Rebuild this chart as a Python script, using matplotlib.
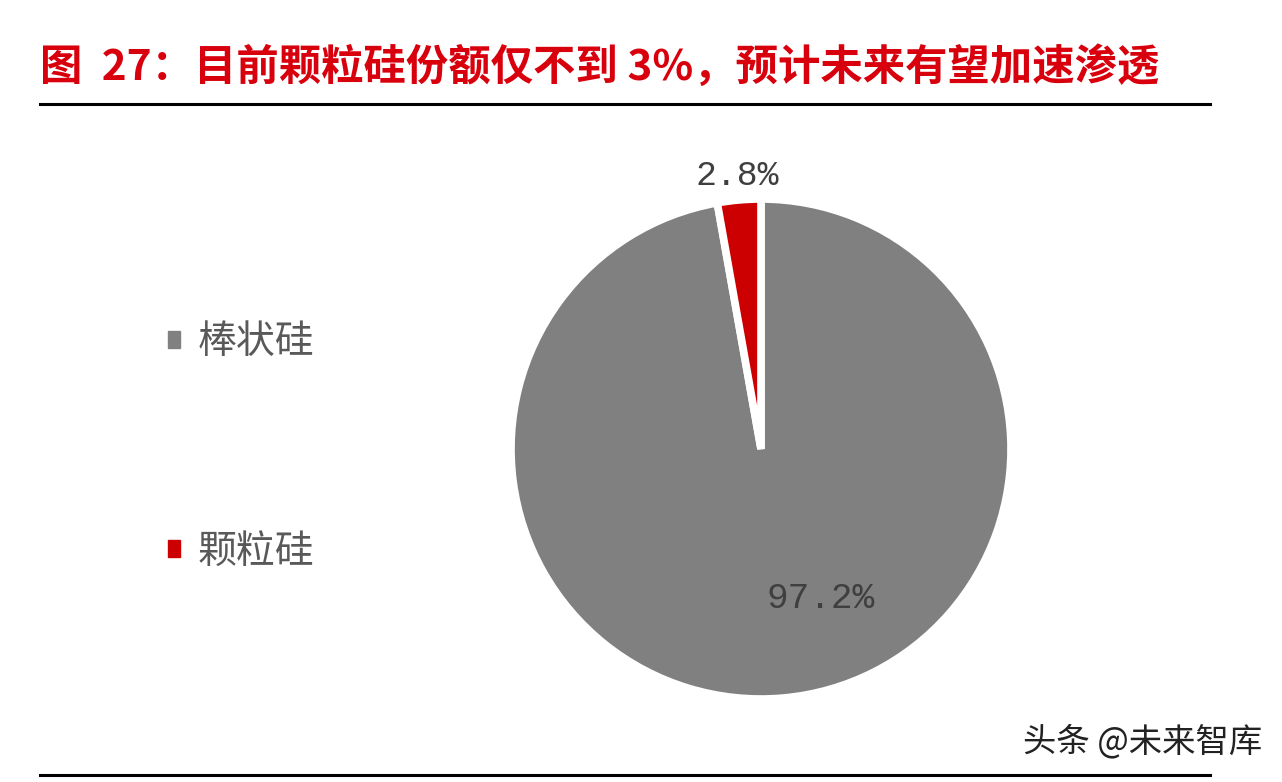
import matplotlib.pyplot as plt
import matplotlib.patches as mpatches
import numpy as np

plt.rcParams['font.family'] = ['Noto Sans CJK SC', 'DejaVu Sans']

# data
categories = ['棒状硅', '颗粒硅']
shares = [97.2, 2.8]
pct_labels = ['97.2%', '2.8%']
colors = ['#808080', '#cc0000']

title = '图  27：目前颗粒硅份额仅不到 3%，预计未来有望加速渗透'

W, H = 1282, 782
fig = plt.figure(figsize=(W / 100, H / 100), dpi=100)

# pie axes: centre (761, 449) px, radius 250 px
cx, cy, r = 761, 449, 250
ax = fig.add_axes([(cx - r) / W, (H - cy - r) / H, 2 * r / W, 2 * r / H])
wedges, _ = ax.pie(shares, colors=colors, startangle=90, counterclock=False,
                   wedgeprops=dict(edgecolor='white', linewidth=5.5))
ax.set_xlim(-1, 1)
ax.set_ylim(-1, 1)
ax.set_aspect('auto')
ax.axis('off')

# small slice label outside, at mid-angle
w = wedges[1]
mid = np.deg2rad((w.theta1 + w.theta2) / 2)
ax.text(1.1 * np.cos(mid), 1.1 * np.sin(mid), pct_labels[1], ha='center', va='center',
        fontsize=25, color='#3f3f3f', family=['Liberation Mono', 'DejaVu Sans Mono'],
        clip_on=False)
# big slice label inside
ax.text(0.24, -0.6, pct_labels[0], ha='center', va='center',
        fontsize=26, color='#3f3f3f', family=['Liberation Mono', 'DejaVu Sans Mono'])

# legend
handles = [mpatches.Patch(color=c, label=l) for c, l in zip(colors, categories)]
leg = fig.legend(handles=handles, loc='center left', bbox_to_anchor=(168 / W, 1 - 447 / H),
                 frameon=False, fontsize=28, labelspacing=4.35, handlelength=0.3,
                 handleheight=0.3, handletextpad=0.45, borderpad=0, borderaxespad=0,
                 labelcolor='#595959')

# title and rules
fig.text(40 / W, 1 - 68 / H, title, fontsize=30.5, fontweight='bold', color='#d9000d',
         ha='left', va='center')
fig.add_artist(plt.Line2D([40 / W, 1210 / W], [1 - 104 / H, 1 - 104 / H],
                          color='black', linewidth=2.2))
fig.add_artist(plt.Line2D([40 / W, 1210 / W], [1 - 775 / H, 1 - 775 / H],
                          color='black', linewidth=2.2))

# watermark
fig.text(1262 / W, 1 - 742 / H, '头条 @未来智库', fontsize=24, color='#222222',
         ha='right', va='center')

fig.savefig('out.png', dpi=100, facecolor='white')
